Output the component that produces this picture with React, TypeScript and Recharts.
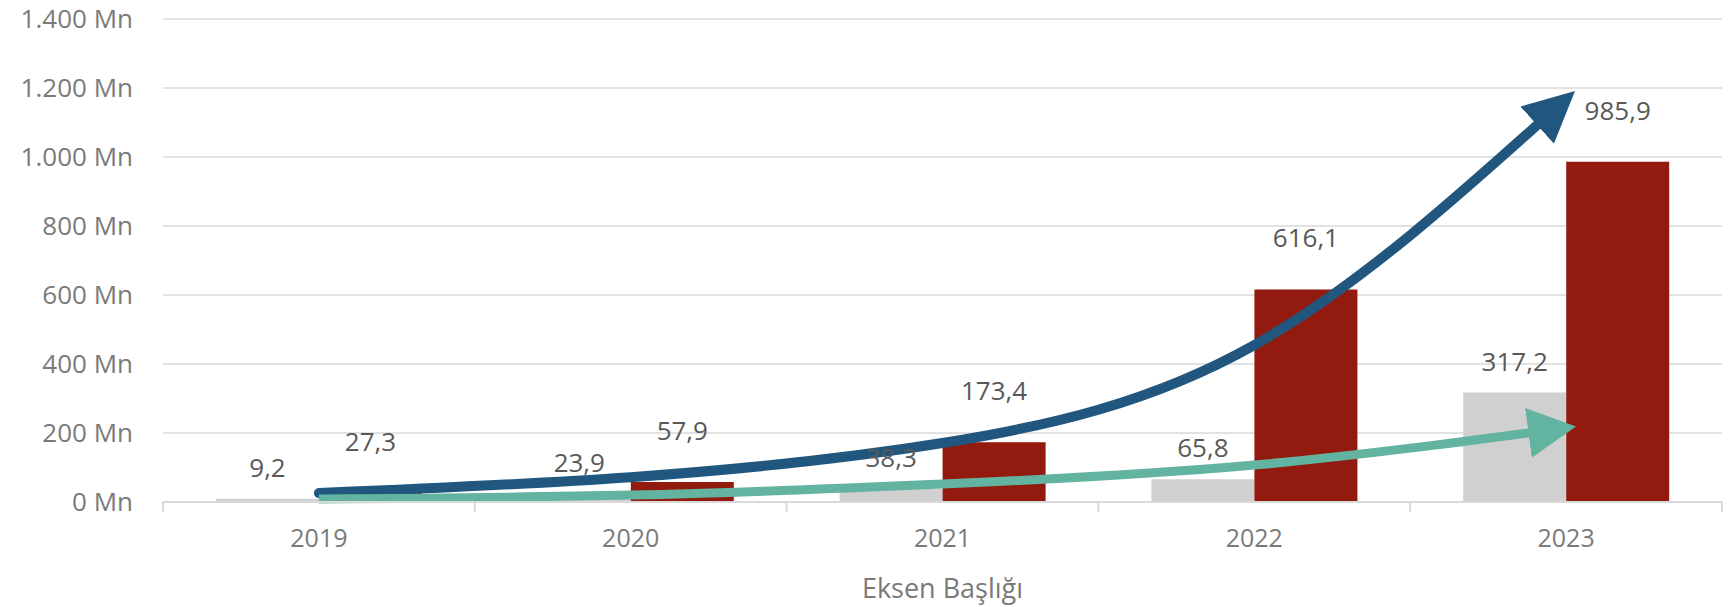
import { ComposedChart, Bar, Line, XAxis, YAxis, CartesianGrid, LabelList, Label } from 'recharts';

const years = ['2019', '2020', '2021', '2022', '2023'];
const greyValues = [9.2, 23.9, 38.3, 65.8, 317.2];
const redValues = [27.3, 57.9, 173.4, 616.1, 985.9];
// decorative growth arrows, anchor values
const blueArrow = [26, 72, 171, 455, 1168];
const tealArrow = [9, 20, 52, 107, 215];
const yTicks = [0, 200, 400, 600, 800, 1000, 1200, 1400];

const data = years.map((year, i) => ({
  year,
  grey: greyValues[i],
  red: redValues[i],
  blue: blueArrow[i],
  teal: tealArrow[i],
}));

const FONT = '"Open Sans", sans-serif';
const AXIS_GREY = '#d9d9d9';

const fmtTick = (v: number) => `${v.toLocaleString('de-DE')} Mn`;
const fmtLabel = (v: any) => String(v).replace('.', ',');

// x tick: label at the category centre, tick marks at the category boundaries (Excel style)
const YearTick = (props: any) => {
  const { x, y, payload, index, visibleTicksCount } = props;
  const half = 1559 / 5 / 2;
  return (
    <g>
      <line x1={x - half} x2={x - half} y1={502} y2={512} stroke={AXIS_GREY} strokeWidth={2} />
      {index === visibleTicksCount - 1 && (
        <line x1={x + half} x2={x + half} y1={502} y2={512} stroke={AXIS_GREY} strokeWidth={2} />
      )}
      <text x={x} y={y + 18} textAnchor="middle" fill="#7a7a7a" fontSize={25} fontFamily={FONT}>
        {payload.value}
      </text>
    </g>
  );
};

export default function App() {
  return (
    <div style={{ position: 'absolute', left: 0, top: 0, width: 1735, height: 607, background: '#fff' }}>
      <svg width={0} height={0} style={{ position: 'absolute' }}>
        <defs>
          <marker id="arrowBlue" viewBox="0 0 51 50" refX={39} refY={25} markerWidth={51} markerHeight={50}
            markerUnits="userSpaceOnUse" orient="auto">
            <path d="M0,0 L51,25 L0,50 z" fill="#21577F" />
          </marker>
          <marker id="arrowTeal" viewBox="0 0 48 50" refX={38} refY={25} markerWidth={48} markerHeight={50}
            markerUnits="userSpaceOnUse" orient="auto">
            <path d="M0,0 L48,25 L0,50 z" fill="#62B3A0" />
          </marker>
        </defs>
      </svg>
      <ComposedChart
        width={1735}
        height={607}
        data={data}
        margin={{ top: 19, right: 13, bottom: 0, left: 0 }}
        barCategoryGap="17%"
        barGap={0}
        style={{ fontFamily: FONT }}
      >
        <CartesianGrid vertical={false} stroke="#e2e2e2" strokeWidth={2} />
        <XAxis
          dataKey="year"
          height={105}
          axisLine={{ stroke: AXIS_GREY, strokeWidth: 2 }}
          tickLine={false}
          tickSize={0}
          tickMargin={27}
          tick={<YearTick />}
        >
          <Label value="Eksen Başlığı" position="insideBottom" offset={9}
            style={{ fill: '#7a7a7a', fontSize: 27, fontFamily: FONT }} />
        </XAxis>
        <YAxis
          width={163}
          domain={[0, 1400]}
          ticks={yTicks}
          tickFormatter={fmtTick}
          axisLine={false}
          tickLine={false}
          tickSize={0}
          tickMargin={30}
          tick={{ fill: '#7a7a7a', fontSize: 26, fontFamily: FONT }}
        />
        <Bar dataKey="grey" fill="#D0D0D0" isAnimationActive={false}>
          <LabelList dataKey="grey" position="top" offset={22} formatter={fmtLabel}
            style={{ fill: '#595959', fontSize: 26, fontFamily: FONT }} />
        </Bar>
        <Bar dataKey="red" fill="#921A0E" isAnimationActive={false}>
          <LabelList dataKey="red" position="top" offset={42} formatter={fmtLabel}
            style={{ fill: '#595959', fontSize: 26, fontFamily: FONT }} />
        </Bar>
        <Line dataKey="blue" type="natural" stroke="#21577F" strokeWidth={10} strokeLinecap="round"
          dot={false} activeDot={false} markerEnd="url(#arrowBlue)" isAnimationActive={false} />
        <Line dataKey="teal" type="natural" stroke="#62B3A0" strokeWidth={9}
          dot={false} activeDot={false} markerEnd="url(#arrowTeal)" isAnimationActive={false} />
      </ComposedChart>
    </div>
  );
}
